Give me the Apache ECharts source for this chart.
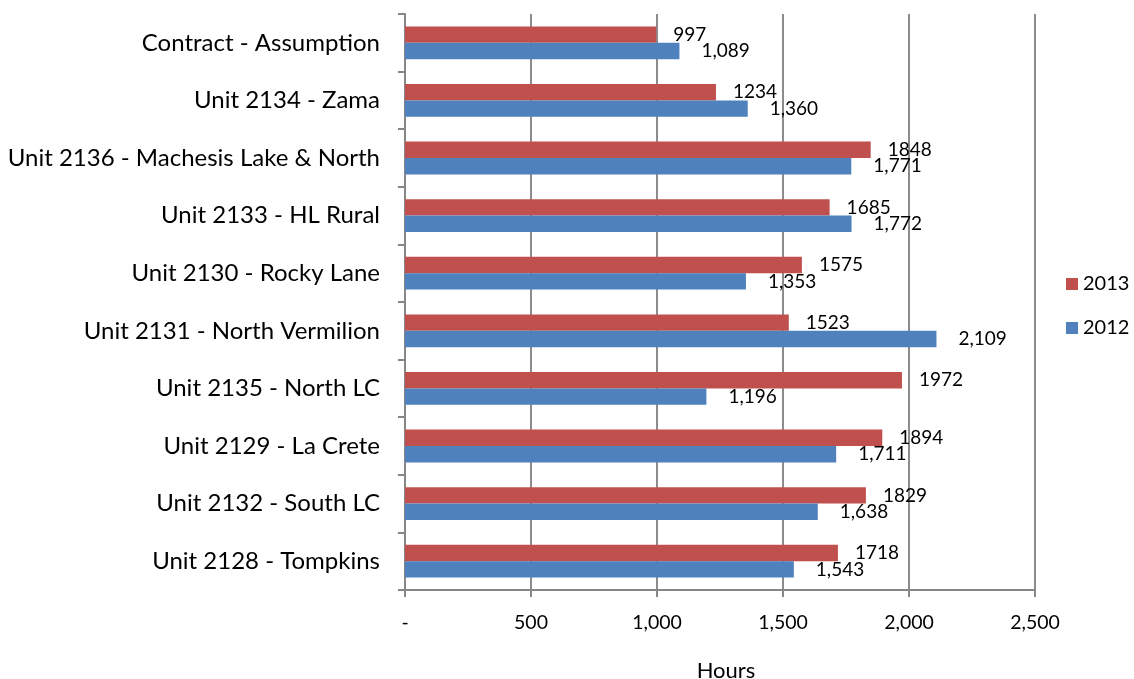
<!DOCTYPE html>
<html>
<head>
<meta charset="utf-8">
<script src="https://cdn.jsdelivr.net/npm/echarts@6/dist/echarts.min.js"></script>
<style>
html,body{margin:0;padding:0;background:#fff;}
#chart{width:1134px;height:679px;}
</style>
</head>
<body>
<div id="chart"></div>
<script>
const categories = [
  "Contract - Assumption",
  "Unit 2134 - Zama",
  "Unit 2136 - Machesis Lake & North",
  "Unit 2133 - HL Rural",
  "Unit 2130 - Rocky Lane",
  "Unit 2131 - North Vermilion",
  "Unit 2135 - North LC",
  "Unit 2129 - La Crete",
  "Unit 2132 - South LC",
  "Unit 2128 - Tompkins"
];
const hours2013 = [997, 1234, 1848, 1685, 1575, 1523, 1972, 1894, 1829, 1718];
const hours2012 = [1089, 1360, 1771, 1772, 1353, 2109, 1196, 1711, 1638, 1543];
const xTicks = [0, 500, 1000, 1500, 2000, 2500];

const FONT = 'Lato';
const fmt = v => v.toLocaleString('en-US');

const chart = echarts.init(document.getElementById('chart'), null, {renderer: 'canvas'});
chart.setOption({
  animation: false,
  backgroundColor: '#fff',
  textStyle: {fontFamily: FONT, color: '#000'},
  grid: {left: 405, right: 99, top: 14, bottom: 89, containLabel: false, outerBoundsMode: 'none'},
  legend: {
    orient: 'vertical',
    left: 1066,
    top: 274,
    padding: 0,
    itemWidth: 12,
    itemHeight: 12,
    itemGap: 24,
    icon: 'rect',
    textStyle: {fontFamily: FONT, fontSize: 20, color: '#000', lineHeight: 20},
    data: ['2013', '2012']
  },
  xAxis: {
    type: 'value',
    min: xTicks[0],
    max: xTicks[xTicks.length - 1],
    interval: 500,
    name: 'Hours',
    nameLocation: 'middle',
    nameGap: 70,
    nameTextStyle: {fontFamily: FONT, fontSize: 22, color: '#000', padding: [0, 0, 0, 12]},
    axisLine: {show: true, lineStyle: {color: '#868686', width: 2}},
    axisTick: {show: true, length: 7, lineStyle: {color: '#868686', width: 2}},
    axisLabel: {
      margin: 23,
      fontFamily: FONT, fontSize: 19.5, color: '#000',
      formatter: v => v === 0 ? '-' : fmt(v)
    },
    splitLine: {show: true, lineStyle: {color: '#8c8c8c', width: 2}}
  },
  yAxis: {
    type: 'category',
    inverse: true,
    data: categories,
    axisLine: {show: true, lineStyle: {color: '#868686', width: 2}},
    axisTick: {show: true, length: 7, lineStyle: {color: '#868686', width: 2}},
    axisLabel: {margin: 25, fontFamily: FONT, fontSize: 24, color: '#000'},
    splitLine: {show: false}
  },
  series: [
    {
      name: '2013',
      type: 'bar',
      data: hours2013,
      barGap: '0%',
      barCategoryGap: '43%',
      itemStyle: {color: '#C0504D'},
      label: {
        show: true, position: 'right', distance: 17,
        fontFamily: FONT, fontSize: 19, color: '#000',
        formatter: p => String(p.value)
      }
    },
    {
      name: '2012',
      type: 'bar',
      data: hours2012,
      barGap: '0%',
      barCategoryGap: '43%',
      itemStyle: {color: '#4F81BD'},
      label: {
        show: true, position: 'right', distance: 22,
        fontFamily: FONT, fontSize: 19, color: '#000',
        formatter: p => fmt(p.value)
      }
    }
  ]
});
</script>
</body>
</html>
